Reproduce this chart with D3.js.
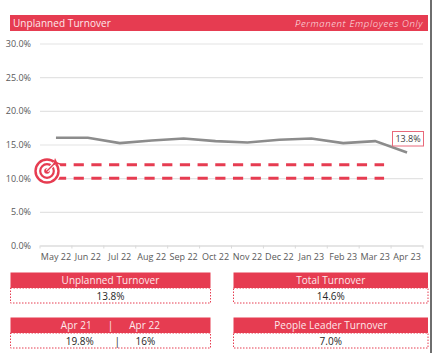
<!DOCTYPE html>
<html>
<head>
<meta charset="utf-8">
<script src="https://cdn.jsdelivr.net/npm/d3@7"></script>
<style>
    html, body { margin: 0; padding: 0; background: #fff; overflow: hidden; }
    svg { display: block; }
    text { font-family: "Open Sans", sans-serif; }
</style>
</head>
<body>
<svg id="canvas"></svg>
<script>
const months = ["May 22", "Jun 22", "Jul 22", "Aug 22", "Sep 22", "Oct 22", "Nov 22", "Dec 22", "Jan 23", "Feb 23", "Mar 23", "Apr 23"];
const turnover = [16.0, 16.0, 15.2, 15.6, 15.9, 15.5, 15.3, 15.7, 15.9, 15.2, 15.5, 13.8];
const targets = [12, 10];
const yTicks = [0, 5, 10, 15, 20, 25, 30];
const tileTitles = ["Unplanned Turnover", "Total Turnover", "Apr 21      |      Apr 22", "People Leader Turnover"];
const tileValues = ["13.8%", "14.6%", "19.8%        |      16%", "7.0%"];

const WIDTH = 432;
const HEIGHT = 353;
const RED = "#e63c51";
const BANNER_TEXT = "#fde9ec";
const PLOT_LEFT = 40;
const PLOT_RIGHT = 423;
const PLOT_TOP = 43.5;
const PLOT_BOTTOM = 245.5;

let svg = d3.select("#canvas")
    .attr("width", WIDTH)
    .attr("height", HEIGHT);

let x = d3.scaleBand().domain(months).range([PLOT_LEFT, PLOT_RIGHT]);
let y = d3.scaleLinear().domain([0, 30]).range([PLOT_BOTTOM, PLOT_TOP]);

// window edge on the right of the screenshot
svg.append("rect")
    .attr("x", 430).attr("y", 0)
    .attr("width", 2).attr("height", HEIGHT)
    .attr("fill", "#6e6e6e");

function drawBanner(x0, x1, top, height) {
    svg.append("rect")
        .attr("x", x0).attr("y", top)
        .attr("width", x1 - x0).attr("height", height)
        .attr("fill", RED);
}

drawBanner(10, 428, 15, 16);
svg.append("text")
    .attr("x", 13).attr("y", 27)
    .attr("fill", BANNER_TEXT)
    .attr("font-size", 10)
    .attr("letter-spacing", 0.06)
    .text("Unplanned Turnover");
svg.append("text")
    .attr("x", 423).attr("y", 27)
    .attr("text-anchor", "end")
    .attr("fill", BANNER_TEXT)
    .attr("font-size", 9.5)
    .attr("font-style", "italic")
    .attr("font-weight", 300)
    .attr("letter-spacing", 0.65)
    .text("Permanent Employees Only");

// gridlines and y labels
let yAxis = svg.append("g")
    .attr("transform", `translate(${PLOT_LEFT},0)`)
    .call(d3.axisLeft(y)
        .tickValues(yTicks)
        .tickSize(PLOT_LEFT - PLOT_RIGHT)
        .tickPadding(9)
        .tickFormat(d => d.toFixed(1) + "%"));
yAxis.select(".domain").remove();
yAxis.selectAll("line")
    .attr("stroke", "#e3e3e3")
    .attr("stroke-width", 1.2);
yAxis.selectAll("text")
    .attr("fill", "#595959")
    .attr("font-size", 9);

// month axis, ticks sit between the months
let xAxis = svg.append("g")
    .attr("transform", `translate(0,${PLOT_BOTTOM})`)
    .call(d3.axisBottom(x).tickSize(0).tickPadding(8.5));
xAxis.select(".domain").attr("stroke", "#d9d9d9");
xAxis.selectAll("text")
    .attr("fill", "#595959")
    .attr("font-size", 9);
xAxis.selectAll("line.sep")
    .data(d3.range(months.length + 1))
    .join("line")
    .attr("class", "sep")
    .attr("x1", i => PLOT_LEFT + i * x.step())
    .attr("x2", i => PLOT_LEFT + i * x.step())
    .attr("y1", 0)
    .attr("y2", 3)
    .attr("stroke", "#d9d9d9");

// target lines
svg.selectAll("line.target")
    .data(targets)
    .join("line")
    .attr("class", "target")
    .attr("x1", x(months[0]) + x.bandwidth() / 2)
    .attr("x2", x(months[months.length - 1]) - 7)
    .attr("y1", d => y(d))
    .attr("y2", d => y(d))
    .attr("stroke", RED)
    .attr("stroke-width", 3)
    .attr("stroke-dasharray", "10.2 7.5");

// target icon
let icon = svg.append("g").attr("transform", "translate(47,171)");
icon.append("circle").attr("r", 14).attr("fill", "#fff");
[[11.5, 2.4], [6.8, 2.2]].forEach(([r, w]) => {
    icon.append("circle")
        .attr("r", r)
        .attr("fill", "none")
        .attr("stroke", RED)
        .attr("stroke-width", w);
});
icon.append("circle").attr("r", 2.8).attr("fill", RED);
icon.append("line")
    .attr("x1", 0).attr("y1", 0)
    .attr("x2", 9).attr("y2", -9)
    .attr("stroke", "#fff")
    .attr("stroke-width", 3.2);
icon.append("line")
    .attr("x1", 0).attr("y1", 0)
    .attr("x2", 9).attr("y2", -9)
    .attr("stroke", RED)
    .attr("stroke-width", 1.5);
icon.append("path")
    .attr("d", "M6,-6 L8,-13 L10,-9 L14,-7 Z")
    .attr("fill", RED);

// turnover line
let line = d3.line()
    .x((d, i) => x(months[i]) + x.bandwidth() / 2)
    .y(d => y(d));
svg.append("path")
    .datum(turnover)
    .attr("d", line)
    .attr("fill", "none")
    .attr("stroke", "#8c8c8c")
    .attr("stroke-width", 2.6);

// last value label
svg.append("rect")
    .attr("x", 392.5).attr("y", 131.5)
    .attr("width", 31).attr("height", 14.5)
    .attr("fill", "#fff")
    .attr("stroke", "#e8697a")
    .attr("stroke-width", 1);
svg.append("text")
    .attr("x", 408).attr("y", 142)
    .attr("text-anchor", "middle")
    .attr("fill", "#404040")
    .attr("font-size", 9)
    .text(d3.format(".1f")(turnover[turnover.length - 1]) + "%");

// KPI tiles
function drawTile(index) {
    let x0 = index % 2 === 0 ? 10.5 : 233.5;
    let x1 = index % 2 === 0 ? 210.5 : 428;
    let top = index < 2 ? 272.5 : 317.5;
    let mid = (x0 + x1) / 2;
    drawBanner(x0, x1, top, 15.5);
    svg.append("text")
        .attr("x", mid).attr("y", top + 11.5)
        .attr("text-anchor", "middle")
        .attr("fill", BANNER_TEXT)
        .attr("font-size", 10)
        .attr("letter-spacing", 0.06)
        .style("white-space", "pre")
        .text(tileTitles[index]);
    svg.append("rect")
        .attr("x", x0).attr("y", top + 15.5)
        .attr("width", x1 - x0).attr("height", 15)
        .attr("fill", "none")
        .attr("stroke", RED)
        .attr("stroke-width", 1)
        .attr("stroke-dasharray", "1.5 1.5");
    svg.append("text")
        .attr("x", mid).attr("y", top + 27)
        .attr("text-anchor", "middle")
        .attr("fill", "#262626")
        .attr("font-size", 10)
        .style("white-space", "pre")
        .text(tileValues[index]);
}

tileTitles.forEach((t, i) => drawTile(i));
</script>
</body>
</html>
